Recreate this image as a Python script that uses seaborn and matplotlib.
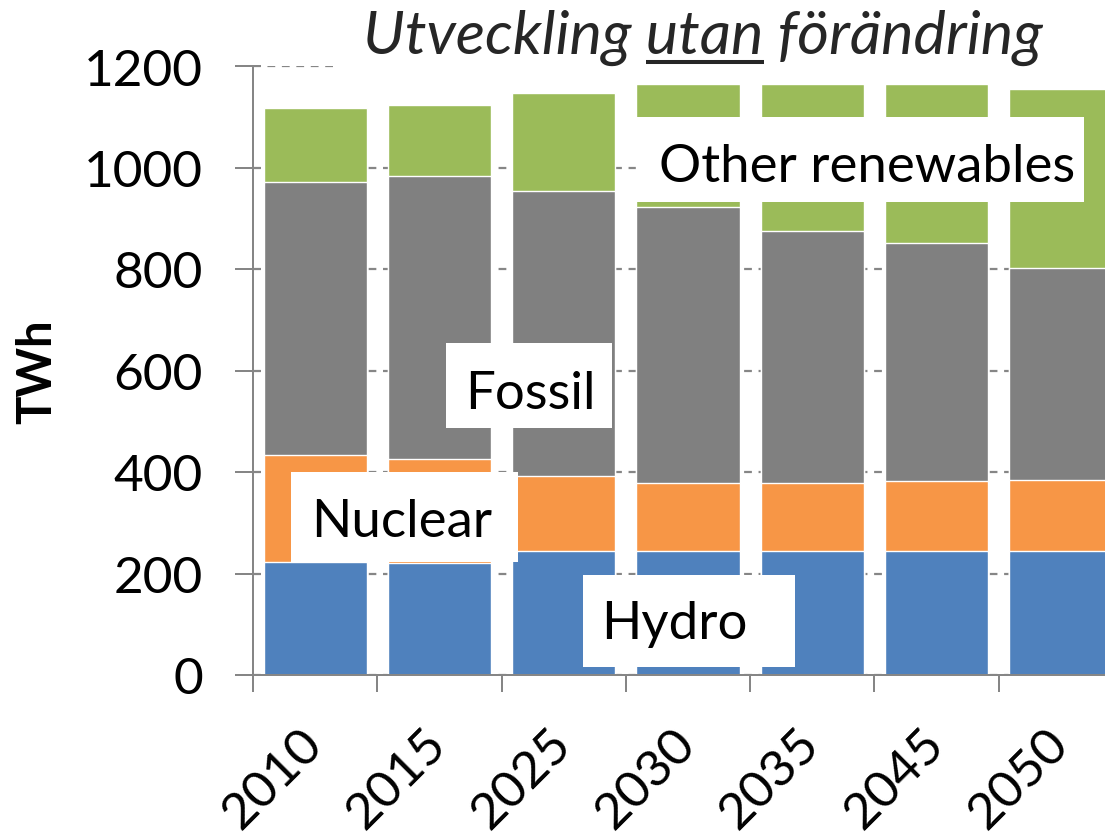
import numpy as np
import pandas as pd
import matplotlib
matplotlib.use("Agg")
import matplotlib.pyplot as plt
from matplotlib.patches import Rectangle
from matplotlib.lines import Line2D
import seaborn as sns

# ---------------- data ----------------
years = ["2010", "2015", "2025", "2030", "2035", "2045", "2050"]
hydro = [222, 220, 244, 244, 244, 244, 244]
nuclear = [212, 205, 148, 134, 134, 138, 141]
fossil = [538, 558, 561, 544, 496, 470, 417]
other_renewables = [146, 141, 193, 243, 291, 313, 352]

series_names = ["Hydro", "Nuclear", "Fossil", "Other renewables"]
colors = {"Hydro": "#4F81BD", "Nuclear": "#F79646", "Fossil": "#808080",
          "Other renewables": "#9BBB59"}
title_parts = ["Utveckling ", "utan", " förändring"]
yticks = [0, 200, 400, 600, 800, 1000, 1200]

df = pd.DataFrame({"year": years, "Hydro": hydro, "Nuclear": nuclear,
                   "Fossil": fossil, "Other renewables": other_renewables})
cum = df[series_names].cumsum(axis=1)

# ---------------- style ----------------
sns.set_style("white")
plt.rcParams["font.family"] = ["Lato", "DejaVu Sans"]

W, H = 1105, 837
fig = plt.figure(figsize=(W / 100, H / 100), dpi=100)
ax = fig.add_axes([253 / W, (H - 676) / H, 870 / W, 609 / H])

GRAY = "#868686"

# stacked bars: draw cumulative layers from top to bottom
for name in reversed(series_names):
    sns.barplot(x=df["year"], y=cum[name], order=years, color=colors[name],
                saturation=1, width=0.83, edgecolor="white", linewidth=1.0,
                ax=ax, zorder=1)

ax.set_xlim(-0.5, 6.5)
ax.set_ylim(0, 1200)
ax.set_yticks(yticks)
ax.set_yticklabels([str(v) for v in yticks])
ax.set_xlabel("")
ax.set_ylabel("TWh", fontsize=34, fontweight="bold", color="black")
ax.yaxis.label.set_va("center")
ax.yaxis.set_label_coords((37 - 253) / 870, (676 - 372) / 609)

# spines
for s in ["top", "right"]:
    ax.spines[s].set_visible(False)
for s in ["left", "bottom"]:
    ax.spines[s].set_color(GRAY)
    ax.spines[s].set_linewidth(1.44)

# grid
ax.set_axisbelow(True)
ax.yaxis.grid(True, which="major", linestyle=(0, (3.5, 3)), color=GRAY, linewidth=1.6)
ax.xaxis.grid(False)

# y ticks: cross the axis (out + short in)
ax.yaxis.remove_overlapping_locs = False
ax.set_yticks(yticks, minor=True)
ax.tick_params(axis="y", which="major", direction="out", length=13, width=1.44,
               color=GRAY, pad=23, labelsize=37, labelcolor="black", left=True)
ax.tick_params(axis="y", which="minor", direction="in", length=5.8, width=1.44,
               color=GRAY, left=True, labelleft=False)

# x ticks: marks at category boundaries, labels at centres
ax.set_xticks(np.arange(-0.5, 7, 1), minor=True)
ax.tick_params(axis="x", which="minor", direction="out", length=12.2, width=1.44,
               color=GRAY, bottom=True)
ax.tick_params(axis="x", which="major", length=0, pad=44, labelsize=37,
               labelcolor="black", bottom=True)
for lab in ax.get_xticklabels():
    lab.set_rotation(45)
    lab.set_ha("right")
    lab.set_va("center")
    lab.set_rotation_mode("anchor")

# ---------------- in-chart labels with white boxes ----------------
def px2x(px):
    return (px - 253) / 124.3 - 0.5

def py2y(py):
    return (676 - py) / 0.5075

label_specs = [
    # name, box (px x0, x1, y_top, y_bottom), text centre x px, baseline y px
    ("Other renewables", (636, 1084, 118, 203), 867, 182),
    ("Fossil", (446, 612, 344, 429), 530, 409),
    ("Nuclear", (291, 518, 473, 563), 402, 537),
    ("Hydro", (583, 795, 576, 668), 674, 639),
]
for name, (bx0, bx1, byt, byb), tx, ty in label_specs:
    ax.add_patch(Rectangle((px2x(bx0), py2y(byb)), px2x(bx1) - px2x(bx0),
                           py2y(byt) - py2y(byb), facecolor="white",
                           edgecolor="none", zorder=3, clip_on=False))
    ax.text(px2x(tx), py2y(ty), name, ha="center", va="baseline",
            fontsize=38, color="black", zorder=4)

# ---------------- title with underlined word ----------------
TFS = 44
fig.add_artist(Rectangle((335 / W, (H - 86) / H), (W - 335) / W, 86 / H,
                         transform=fig.transFigure, facecolor="white",
                         edgecolor="none", zorder=5))
title = "".join(title_parts)
tcx, tby = 703, 54
fig.text(tcx / W, (H - tby) / H, title, ha="center", va="baseline",
         fontsize=TFS, style="italic", color="#262626", zorder=6)

fig.canvas.draw()
renderer = fig.canvas.get_renderer()

def text_width(s):
    t = fig.text(0, 0, s, fontsize=TFS, style="italic")
    w = t.get_window_extent(renderer).width
    t.remove()
    return w

w_full = text_width(title)
w_upto = text_width(title_parts[0] + title_parts[1])
w_word = text_width(title_parts[1])
left = tcx - w_full / 2
u0 = left + w_upto - w_word
u1 = left + w_upto
uy = tby + 9
fig.add_artist(Line2D([u0 / W, u1 / W], [(H - uy) / H, (H - uy) / H],
                      transform=fig.transFigure, color="#262626",
                      linewidth=2.9, solid_capstyle="butt", zorder=6))

fig.savefig("out.png", dpi=100)
